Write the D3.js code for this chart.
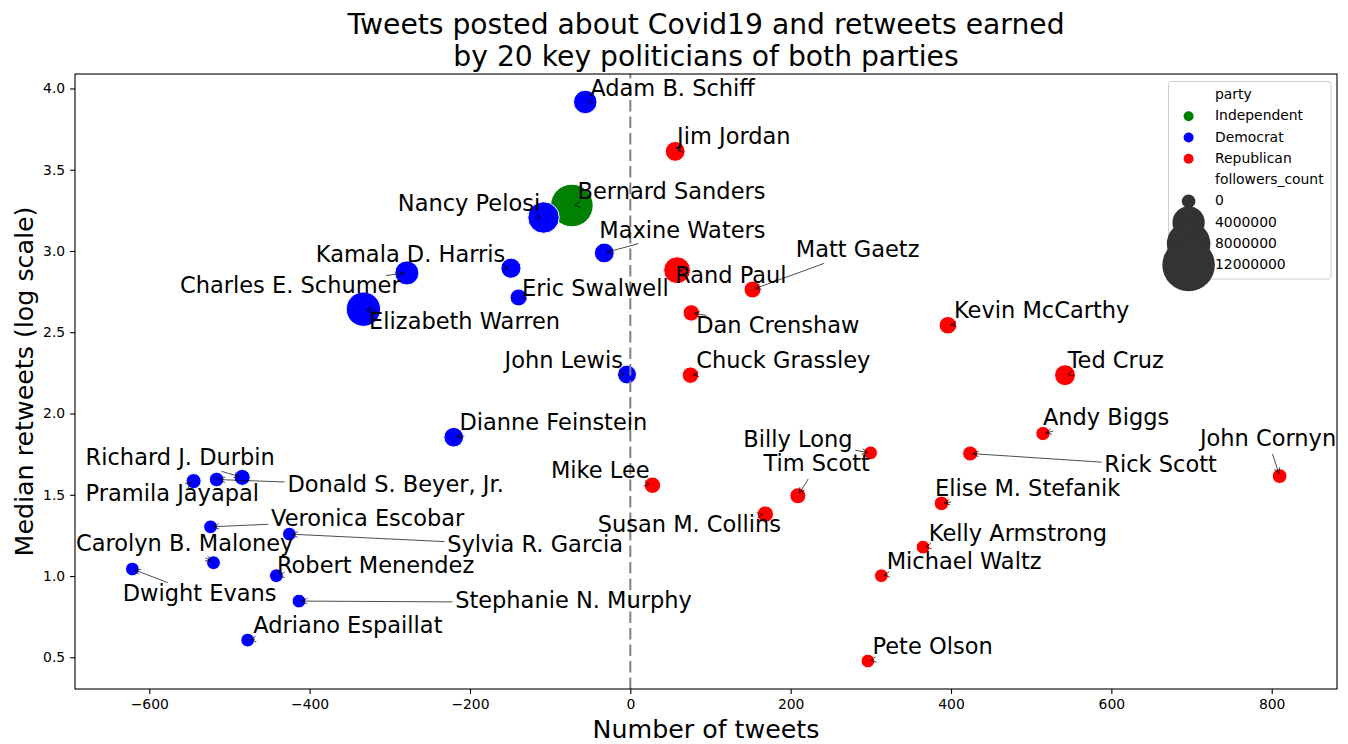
<!DOCTYPE html>
<html>
<head>
<meta charset="utf-8">
<script src="https://cdn.jsdelivr.net/npm/d3@7"></script>
<style>
  body { margin: 0; background: #fff; }
  svg { font-family: "DejaVu Sans", sans-serif; }
</style>
</head>
<body>
<svg id="chart" width="1348" height="744"></svg>
<script>
// politicians, in drawing order
const names = [
  "Bernard Sanders", "Adam B. Schiff", "Nancy Pelosi", "Maxine Waters", "Kamala D. Harris",
  "Charles E. Schumer", "Eric Swalwell", "Elizabeth Warren", "John Lewis", "Dianne Feinstein",
  "Richard J. Durbin", "Pramila Jayapal", "Donald S. Beyer, Jr.", "Veronica Escobar", "Sylvia R. Garcia",
  "Carolyn B. Maloney", "Robert Menendez", "Dwight Evans", "Stephanie N. Murphy", "Adriano Espaillat",
  "Jim Jordan", "Matt Gaetz", "Rand Paul", "Dan Crenshaw", "Kevin McCarthy",
  "Chuck Grassley", "Ted Cruz", "Andy Biggs", "Billy Long", "Tim Scott",
  "John Cornyn", "Rick Scott", "Elise M. Stefanik", "Kelly Armstrong", "Michael Waltz",
  "Pete Olson", "Mike Lee", "Susan M. Collins"
];
const party = [
  "Independent", "Democrat", "Democrat", "Democrat", "Democrat",
  "Democrat", "Democrat", "Democrat", "Democrat", "Democrat",
  "Democrat", "Democrat", "Democrat", "Democrat", "Democrat",
  "Democrat", "Democrat", "Democrat", "Democrat", "Democrat",
  "Republican", "Republican", "Republican", "Republican", "Republican",
  "Republican", "Republican", "Republican", "Republican", "Republican",
  "Republican", "Republican", "Republican", "Republican", "Republican",
  "Republican", "Republican", "Republican"
];
// number of tweets (centred)
const tweets = [
  -72.9, -56.2, -108.2, -32.5, -148.9,
  -278.7, -139.4, -332.9, -4.1, -220.3,
  -484.1, -544.7, -516.0, -523.6, -425.3,
  -519.9, -441.5, -621.1, -413.3, -477.3,
  56.0, 152.4, 58.3, 76.0, 396.1,
  75.0, 542.2, 514.7, 299.7, 209.0,
  809.9, 423.9, 388.1, 365.1, 313.1,
  296.3, 27.6, 168.4
];
// median retweets, log10
const retweets = [
  3.280, 3.917, 3.206, 2.988, 2.894,
  2.865, 2.714, 2.642, 2.240, 1.854,
  1.607, 1.584, 1.594, 1.303, 1.258,
  1.082, 1.002, 1.043, 0.846, 0.606,
  3.613, 2.763, 2.882, 2.619, 2.543,
  2.236, 2.236, 1.877, 1.758, 1.494,
  1.615, 1.754, 1.447, 1.178, 1.002,
  0.477, 1.559, 1.381
];
const followers = [
  7600000, 1720000, 3760000, 980000, 1050000,
  1850000, 490000, 4650000, 810000, 940000,
  340000, 200000, 130000, 20000, 15000,
  30000, 25000, 20000, 25000, 20000,
  980000, 490000, 2490000, 400000, 580000,
  400000, 1190000, 90000, 25000, 340000,
  160000, 200000, 130000, 20000, 20000,
  15000, 400000, 400000
];
// where each name label sits, in data units (tweets, log retweets)
const labelTweets = [
  -65.8, -49.9, -290.0, -38.7, -392.3,
  -561.7, -135.2, -325.8, -156.9, -213.1,
  -679.4, -679.4, -427.7, -448.1, -228.4,
  -691.4, -440.7, -633.1, -218.5, -470.2,
  58.3, 206.4, 55.9, 82.2, 403.7,
  82.2, 545.5, 514.6, 141.0, 166.0,
  710.5, 591.2, 380.0, 372.3, 319.8,
  302.1, -99.0, -40.7
];
const labelRetweets = [
  3.318, 3.952, 3.244, 3.083, 2.934,
  2.742, 2.724, 2.523, 2.283, 1.898,
  1.682, 1.461, 1.518, 1.309, 1.149,
  1.155, 1.020, 0.848, 0.801, 0.647,
  3.657, 2.963, 2.800, 2.496, 2.585,
  2.277, 2.277, 1.928, 1.795, 1.645,
  1.801, 1.641, 1.492, 1.215, 1.043,
  0.518, 1.601, 1.272
];

const partyOrder = ["Independent", "Democrat", "Republican"];
const sizeTicks = [0, 4000000, 8000000, 12000000];
const xTicks = [-600, -400, -200, 0, 200, 400, 600, 800];
const yTicks = [0.5, 1.0, 1.5, 2.0, 2.5, 3.0, 3.5, 4.0];

const svg = d3.select("#chart");
const plot = { left: 75, right: 1337, top: 74, bottom: 689 };
const labelSize = 22.5;

// matplotlib style 5% margins
function padded(values) {
  const [lo, hi] = d3.extent(values);
  const p = (hi - lo) * 0.05;
  return [lo - p, hi + p];
}

const x = d3.scaleLinear().domain(padded(tweets)).range([plot.left, plot.right]);
const y = d3.scaleLinear().domain(padded(retweets)).range([plot.bottom, plot.top]);
const color = d3.scaleOrdinal().domain(partyOrder).range(["green", "blue", "red"]);
// marker area grows linearly with followers
const area = d3.scaleLinear().domain([0, 12000000]).range([46, 690]);
const radius = v => Math.sqrt(area(v));

svg.append("rect")
  .attr("width", 1348).attr("height", 744)
  .attr("fill", "white");

// bubbles
svg.append("g")
  .selectAll("circle")
  .data(names)
  .join("circle")
  .attr("cx", (d, i) => x(tweets[i]))
  .attr("cy", (d, i) => y(retweets[i]))
  .attr("r", (d, i) => radius(followers[i]))
  .attr("fill", (d, i) => color(party[i]))
  .attr("stroke", "white")
  .attr("stroke-width", 1);

// dashed zero line, drawn bottom to top like axvline
svg.append("line")
  .attr("x1", x(0)).attr("x2", x(0))
  .attr("y1", plot.bottom).attr("y2", plot.top)
  .attr("stroke", "grey")
  .attr("stroke-width", 2)
  .attr("stroke-dasharray", "11.5,5");

// axes
const xAxis = svg.append("g")
  .attr("transform", `translate(0,${plot.bottom})`)
  .call(d3.axisBottom(x).tickValues(xTicks).tickSizeOuter(0).tickSize(4.9).tickPadding(4.9));
const yAxis = svg.append("g")
  .attr("transform", `translate(${plot.left},0)`)
  .call(d3.axisLeft(y).tickValues(yTicks).tickFormat(d3.format(".1f")).tickSizeOuter(0).tickSize(4.9).tickPadding(4.9));

[xAxis, yAxis].forEach(a => {
  a.select(".domain").remove();
  a.selectAll(".tick line").attr("stroke", "black").attr("stroke-width", 1.1);
  a.selectAll(".tick text")
    .attr("fill", "black")
    .style("font-family", "DejaVu Sans")
    .style("font-size", "13.9px");
});

svg.append("rect")
  .attr("x", plot.left).attr("y", plot.top)
  .attr("width", plot.right - plot.left)
  .attr("height", plot.bottom - plot.top)
  .attr("fill", "none")
  .attr("stroke", "black")
  .attr("stroke-width", 1.1);

// name labels with "->" arrows clipped at the text box
const ann = svg.append("g");
const shrink = 2.8, headLen = 5.6, headHalf = 2.8;

names.forEach((name, i) => {
  const tx = x(labelTweets[i]);
  const ty = y(labelRetweets[i]);
  const label = ann.append("text")
    .attr("x", tx)
    .attr("y", ty)
    .attr("font-size", labelSize)
    .attr("fill", "black")
    .text(name);

  const w = label.node().getComputedTextLength();
  const box = { x0: tx, x1: tx + w, y0: ty - 0.76 * labelSize, y1: ty + 0.24 * labelSize };
  const cx = (box.x0 + box.x1) / 2, cy = (box.y0 + box.y1) / 2;
  const px = x(tweets[i]), py = y(retweets[i]);
  const dx = px - cx, dy = py - cy;
  const len = Math.hypot(dx, dy);
  const ux = dx / len, uy = dy / len;

  let tExit = Infinity;
  if (dx > 0) tExit = Math.min(tExit, (box.x1 - cx) / dx);
  if (dx < 0) tExit = Math.min(tExit, (box.x0 - cx) / dx);
  if (dy > 0) tExit = Math.min(tExit, (box.y1 - cy) / dy);
  if (dy < 0) tExit = Math.min(tExit, (box.y0 - cy) / dy);

  const endAlong = len - shrink;
  let startAlong = tExit * len + shrink;
  if (startAlong > endAlong) startAlong = endAlong;

  const sx = cx + ux * startAlong, sy = cy + uy * startAlong;
  const ex = cx + ux * endAlong, ey = cy + uy * endAlong;

  const arrow = d3.path();
  arrow.moveTo(sx, sy);
  arrow.lineTo(ex, ey);
  arrow.moveTo(ex - ux * headLen - uy * headHalf, ey - uy * headLen + ux * headHalf);
  arrow.lineTo(ex, ey);
  arrow.lineTo(ex - ux * headLen + uy * headHalf, ey - uy * headLen - ux * headHalf);

  ann.append("path")
    .attr("d", arrow.toString())
    .attr("fill", "none")
    .attr("stroke", "black")
    .attr("stroke-width", 0.7);
});

// axis titles
svg.append("text")
  .attr("x", (plot.left + plot.right) / 2)
  .attr("y", 738)
  .attr("text-anchor", "middle")
  .attr("font-size", 25.3)
  .text("Number of tweets");

svg.append("text")
  .attr("transform", `translate(33,${(plot.top + plot.bottom) / 2}) rotate(-90)`)
  .attr("text-anchor", "middle")
  .attr("font-size", 25.3)
  .text("Median retweets (log scale)");

const title = svg.append("text")
  .attr("text-anchor", "middle")
  .attr("font-size", 28.2);
title.append("tspan")
  .attr("x", (plot.left + plot.right) / 2).attr("y", 33.5)
  .text("Tweets posted about Covid19 and retweets earned");
title.append("tspan")
  .attr("x", (plot.left + plot.right) / 2).attr("y", 66)
  .text("by 20 key politicians of both parties");

// legend
const legend = svg.append("g");
legend.append("rect")
  .attr("x", 1168.5).attr("y", 81.5)
  .attr("width", 162.5).attr("height", 197.5)
  .attr("rx", 3)
  .attr("fill", "white").attr("fill-opacity", 0.8)
  .attr("stroke", "#cccccc");

const entries = [{ label: "party" }]
  .concat(partyOrder.map(p => ({ label: p, r: 5, fill: color(p) })))
  .concat([{ label: "followers_count" }])
  .concat(sizeTicks.map(v => ({ label: String(v), r: radius(v), fill: "#333333" })));

entries.forEach((e, i) => {
  const base = 99 + i * 21.25;
  if (e.r) {
    legend.append("circle")
      .attr("cx", 1188.6).attr("cy", base - 4)
      .attr("r", e.r)
      .attr("fill", e.fill);
  }
  legend.append("text")
    .attr("x", 1215).attr("y", base)
    .attr("font-size", 13.9)
    .text(e.label);
});
</script>
</body>
</html>
